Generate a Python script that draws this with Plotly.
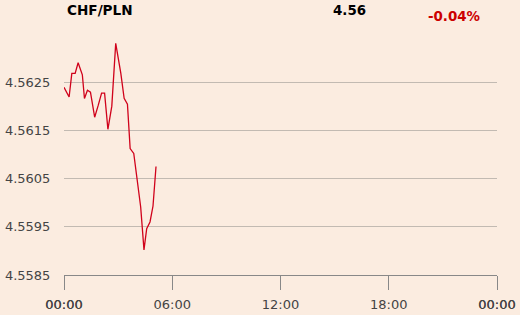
import plotly.graph_objects as go
import pandas as pd

minutes = [0, 17, 26, 37, 47, 61, 68, 78, 88, 102, 114, 125, 135, 146, 159, 172,
           189, 200, 211, 220, 232, 243, 255, 266, 275, 286, 296, 306]
values = [4.56239, 4.56219, 4.56268, 4.56268, 4.56290, 4.56265, 4.56216, 4.56233,
          4.56229, 4.56177, 4.56202, 4.56227, 4.56227, 4.56152, 4.56200, 4.56330,
          4.56268, 4.56216, 4.56204, 4.56112, 4.56102, 4.56053, 4.55991, 4.55902,
          4.55946, 4.55960, 4.55993, 4.56075]
y_ticks = [4.5585, 4.5595, 4.5605, 4.5615, 4.5625]
x_tick_hours = [0, 6, 12, 18, 24]
title = "CHF/PLN"
last_price = "4.56"
change = "-0.04%"

start = pd.Timestamp("2024-01-01 00:00")
times = [start + pd.Timedelta(minutes=m) for m in minutes]
end = start + pd.Timedelta(hours=24)
xticks = [start + pd.Timedelta(hours=h) for h in x_tick_hours]

bg = "#fbece0"
L, R, T, B = 64, 23, 30, 39.5
pw, ph = 520 - L - R, 315 - T - B
def px(x):
    return (x - L) / pw
def py(y):
    return (315 - B - y) / ph

fig = go.Figure()
fig.add_trace(go.Scatter(x=times, y=values, mode="lines",
                         line=dict(color="#d0021b", width=1.3),
                         hoverinfo="skip", showlegend=False))
# invisible trace on overlay axis to duplicate edge tick labels (darker in reference)
fig.add_trace(go.Scatter(x=[start, end], y=[None, None], xaxis="x2", mode="lines",
                         hoverinfo="skip", showlegend=False))

axis_common = dict(range=[start, end], type="date", tickformat="%H:%M",
                   showgrid=False, zeroline=False, automargin=False,
                   ticks="outside", ticklen=14, tickcolor="#888",
                   ticklabelstandoff=3,
                   tickfont=dict(family="DejaVu Sans", size=13, color="#444"))

fig.update_layout(
    width=520, height=315,
    margin=dict(l=L, r=R, t=T, b=B, autoexpand=False),
    paper_bgcolor=bg, plot_bgcolor=bg,
    font=dict(family="DejaVu Sans", size=13, color="#444"),
    xaxis=dict(tickvals=xticks, showline=True, linecolor="#888", linewidth=1,
               **axis_common),
    xaxis2=dict(tickvals=[xticks[0], xticks[-1]], overlaying="x", side="bottom",
                showline=False, anchor="y", **axis_common),
    yaxis=dict(range=[4.5585, 4.563578], tickvals=y_ticks, automargin=False,
               tickformat=".4f", showgrid=True, gridcolor="#c2bab2", gridwidth=1,
               zeroline=False, showline=False, ticks="outside", ticklen=10,
               tickcolor="rgba(0,0,0,0)",
               tickfont=dict(family="DejaVu Sans", size=13, color="#444")),
    annotations=[
        dict(text="<b>" + title + "</b>", x=px(65), y=py(10), xref="paper", yref="paper",
             showarrow=False, xanchor="left", yanchor="middle",
             font=dict(size=13.6, color="#000")),
        dict(text="<b>" + last_price + "</b>", x=px(349), y=py(10), xref="paper", yref="paper",
             showarrow=False, xanchor="center", yanchor="middle",
             font=dict(size=13.4, color="#000")),
        dict(text="<b>" + change + "</b>", x=px(453.5), y=py(16.5), xref="paper", yref="paper",
             showarrow=False, xanchor="center", yanchor="middle",
             font=dict(size=13.4, color="#cc0000")),
    ],
)
fig.write_html("out.html")
